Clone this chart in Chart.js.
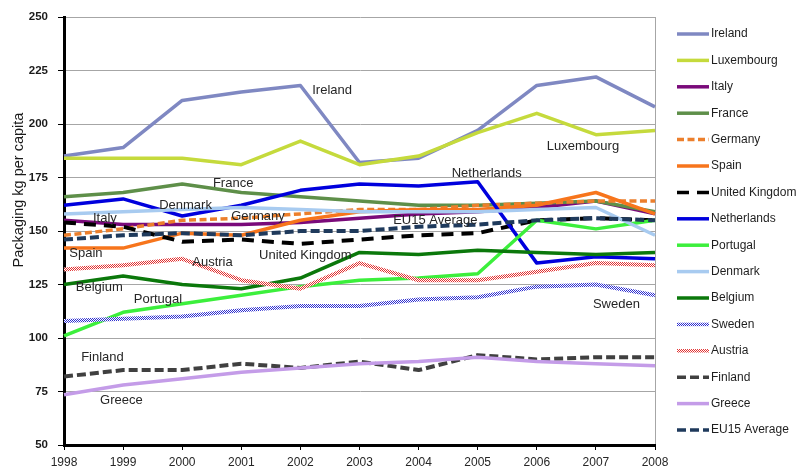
<!DOCTYPE html>
<html><head><meta charset="utf-8">
<script src="https://cdn.jsdelivr.net/npm/chart.js@4"></script>
<style>html,body{margin:0;padding:0;background:#fff}</style>
</head><body>
<canvas id="c" width="798" height="470"></canvas>
<script>
// ---- data ----
const years = ['1998','1999','2000','2001','2002','2003','2004','2005','2006','2007','2008'];
const seriesNames = ['Ireland','Luxembourg','Italy','France','Germany','Spain','United Kingdom','Netherlands','Portugal','Denmark','Belgium','Sweden','Austria','Finland','Greece','EU15 Average'];
const ireland     = [185, 189, 211, 215, 218, 182, 184, 197, 218, 222, 208];
const luxembourg  = [184, 184, 184, 181, 192, 181, 185, 196, 205, 195, 197];
const italy       = [155, 153, 153, 153, 154, 156, 158, 159, 161, 164, 158];
const france      = [166, 168, 172, 168, 166, 164, 162, 162, 163, 164, 159];
const germany     = [148, 151, 155, 156, 158, 160, 160, 162, 163, 164, 164];
const spain       = [142, 142, 149, 148, 155, 159, 160, 160, 162, 168, 158];
const uk          = [154, 152, 145, 146, 144, 146, 148, 149, 155, 156, 155];
const netherlands = [162, 165, 157, 162, 169, 172, 171, 173, 135, 138, 137];
const portugal    = [101, 112, 116, 120, 124, 127, 128, 130, 155, 151, 155];
const denmark     = [158, 159, 160, 161, 160, 159, 159, 159, 160, 161, 148];
const belgium     = [125, 129, 125, 123, 128, 140, 139, 141, 140, 139, 140];
const sweden      = [108, 109, 110, 113, 115, 115, 118, 119, 124, 125, 120];
const austria     = [132, 134, 137, 127, 123, 135, 127, 127, 131, 135, 134];
const finland     = [82, 85, 85, 88, 86, 89, 85, 92, 90, 91, 91];
const greece      = [73.5, 78, 81, 84, 86, 88, 89, 91, 89, 88, 87];
const eu15        = [146, 148, 149, 148, 150, 150, 152, 153, 155, 156, 155];
const seriesValues = [ireland, luxembourg, italy, france, germany, spain, uk, netherlands, portugal, denmark, belgium, sweden, austria, finland, greece, eu15];
const yTicks = [50, 75, 100, 125, 150, 175, 200, 225, 250];

// in-chart labels: text, x position in year-index units, y in kg
const noteTexts = ['Ireland','Luxembourg','Netherlands','France','Denmark','Italy','Germany','EU15 Average','Spain','United Kingdom','Austria','Belgium','Portugal','Sweden','Finland','Greece'];
const noteX = [4.20, 8.17, 6.56, 2.52, 1.61, 0.49, 2.83, 5.57, 0.09, 3.30, 2.17, 0.20, 1.18, 8.95, 0.29, 0.61];
const noteY = [215.9, 189.3, 177.1, 172.0, 162.1, 156.1, 157.0, 155.1, 139.7, 138.8, 135.5, 123.8, 117.8, 115.9, 91.1, 70.6];

// ---- styles ----
const canvas = document.getElementById('c');
const ctx0 = canvas.getContext('2d');
function hatch(color){
  const c = document.createElement('canvas'); c.width = 4; c.height = 4;
  const g = c.getContext('2d');
  g.fillStyle = '#ffffff'; g.fillRect(0,0,4,4);
  g.fillStyle = color;
  for (let x=0;x<4;x++) for (let y=0;y<4;y++) if ((x+y)%2===0) g.fillRect(x,y,1,1);
  return ctx0.createPattern(c,'repeat');
}
const colors = ['#7f88c2','#c5da3c','#7a0a7a','#5e8f49','#ec7f2c','#f7751c','#000000','#0000dd','#3cef3c','#a8cbf0','#0b780b', hatch('#2f2fd0'), hatch('#e23030'),'#404040','#c49ce8','#1f3a5c'];
const dashes = [[],[],[],[],[7,3.5],[],[12,8],[],[],[],[],[],[],[9,4],[],[9,4]];
const widths = [3.5,3.5,3.5,3.5,3.5,3.5,4,3.5,3.5,3.5,3.5,4,4,4,3.5,4];

const FONT = "'Liberation Sans', Arial, sans-serif";

const datasets = seriesNames.map((n,i)=>({
  label: n,
  data: seriesValues[i],
  borderColor: colors[i],
  backgroundColor: colors[i],
  borderDash: dashes[i],
  borderWidth: widths[i],
  pointRadius: 0,
  pointHoverRadius: 0,
  fill: false,
  tension: 0,
  borderJoinStyle: 'round',
  order: seriesNames.length - 1 - i
}));

const extras = {
  id: 'extras',
  afterDatasetsDraw(chart){
    const c = chart.ctx, xs = chart.scales.x, ys = chart.scales.y;
    c.save();
    c.fillStyle = '#262626';
    c.font = '13px ' + FONT;
    c.textAlign = 'left'; c.textBaseline = 'middle';
    noteTexts.forEach((t,i)=>{
      c.fillText(t, xs.getPixelForValue(noteX[i]), ys.getPixelForValue(noteY[i]));
    });
    c.restore();
  },
  afterDraw(chart){
    const c = chart.ctx;
    // y axis title
    c.save();
    c.translate(19, 190);
    c.rotate(-Math.PI/2);
    c.fillStyle = '#1a1a1a';
    c.font = '14.5px ' + FONT;
    c.textAlign = 'center'; c.textBaseline = 'middle';
    c.fillText('Packaging kg per capita', 0, 0);
    c.restore();
    // legend
    const x0 = 677, len = 32, tx = 711, y0 = 34, step = 26.4;
    chart.data.datasets.forEach((d,i)=>{
      const y = y0 + i*step;
      c.save();
      c.strokeStyle = d.borderColor;
      c.lineWidth = Math.min(d.borderWidth, 3.5);
      c.setLineDash(d.borderDash || []);
      c.beginPath(); c.moveTo(x0, y); c.lineTo(x0+len, y); c.stroke();
      c.restore();
      c.save();
      c.fillStyle = '#1e1e1e';
      c.font = '12px ' + FONT;
      c.textAlign = 'left'; c.textBaseline = 'middle';
      c.fillText(d.label, tx, y);
      c.restore();
    });
  }
};

new Chart(canvas, {
  type: 'line',
  data: { labels: years, datasets },
  options: {
    responsive: false,
    animation: false,
    devicePixelRatio: 1,
    layout: { padding: { top: 17, right: 143, bottom: 0, left: 0 } },
    plugins: { legend: { display: false }, tooltip: { enabled: false }, title: { display: false } },
    scales: {
      x: {
        type: 'category',
        offset: false,
        afterFit(s){ s.height = 25; },
        grid: {
          color: (ctx)=> ctx.index === years.length - 1 ? '#a6a6a6' : 'rgba(0,0,0,0)',
          lineWidth: 1,
          tickColor: '#000',
          tickLength: 5,
          drawTicks: true
        },
        border: { color: '#000', width: 3 },
        ticks: { font: { family: FONT, size: 12 }, color: '#262626', padding: 5, maxRotation: 0, autoSkip: false }
      },
      y: {
        min: 50, max: 250,
        afterFit(s){ s.width = 64; },
        afterBuildTicks(s){ s.ticks = yTicks.map(v=>({value:v})); },
        grid: { color: '#a6a6a6', lineWidth: 1, tickColor: '#000', tickLength: 6 },
        border: { color: '#000', width: 3 },
        ticks: { font: { family: FONT, size: 11.5, weight: 'bold' }, color: '#1a1a1a', padding: 10 }
      }
    }
  },
  plugins: [extras]
});
</script>
</body></html>
